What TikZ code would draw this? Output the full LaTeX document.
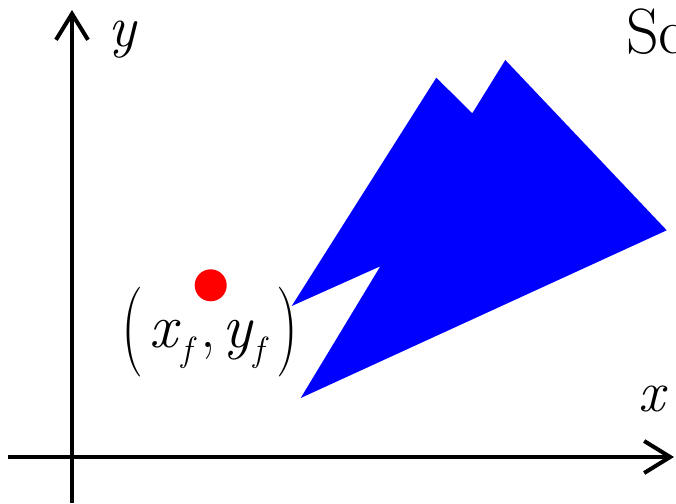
\documentclass[tikz,border=0pt]{standalone}
\usetikzlibrary{arrows.meta}
\begin{document}
\begin{tikzpicture}[x=1pt,y=-1pt,
  axis/.style={line width=4pt,-{Straight Barb[length=26pt,width=32pt,line width=4pt]}},
  lbl/.style={inner sep=0pt,font=\fontsize{58}{64}\selectfont\itshape}]
\useasboundingbox (0,0) rectangle (676,503);
\coordinate (xs) at (8,457);
\coordinate (xe) at (674,457);
\coordinate (ys) at (72,503);
\coordinate (ye) at (72,10);
\draw[axis] (xs) -- (xe);
\draw[axis] (ys) -- (ye);
\node[lbl,anchor=base] (ylab) at (122,46) {y};
\node[lbl,anchor=base] (xlab) at (652,411) {x};
\node[inner sep=0pt,anchor=base west,font=\fontsize{64}{70}\selectfont] (sc) at (626,53) {Sc};
\fill[blue] (436.3,77.7) -- (472.3,113.3) -- (505.3,60) -- (666.7,230.3) -- (300.7,398) -- (380.3,266.3) -- (291.7,306) -- cycle;
\fill[red] (210.7,285.3) circle (16);
\node[inner sep=0pt,anchor=base,font=\fontsize{62}{68}\selectfont] (pt) at (210,347)
  {\raisebox{-7pt}{\scalebox{1}[1.45]{(}}\hspace{6pt}\textit{x}\raisebox{-14pt}{\fontsize{35}{35}\selectfont\textit{f}}\hspace{4pt},\hspace{6pt}\textit{y}\raisebox{-14pt}{\fontsize{35}{35}\selectfont\textit{f}}\hspace{7pt}\raisebox{-7pt}{\scalebox{1}[1.45]{)}}};
\end{tikzpicture}
\end{document}
